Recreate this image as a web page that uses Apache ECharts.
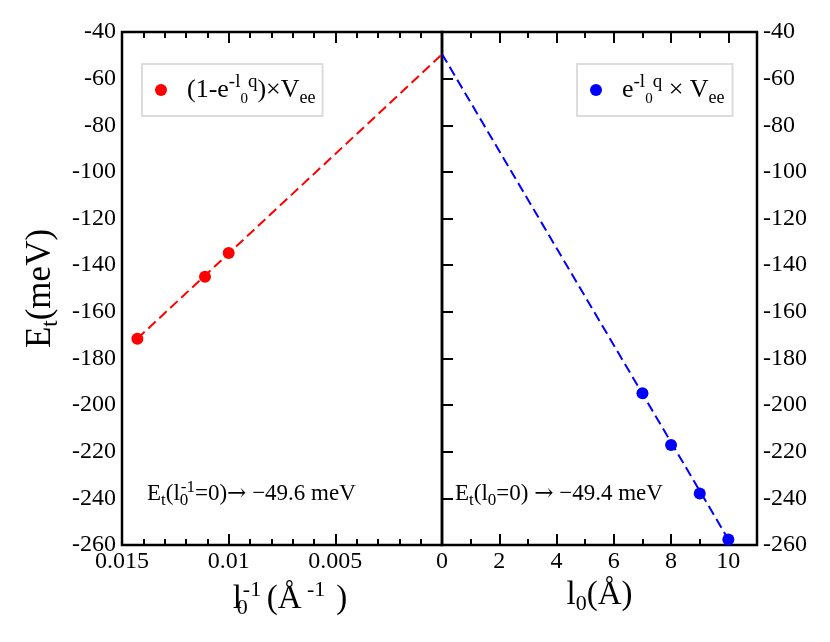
<!DOCTYPE html>
<html><head><meta charset="utf-8">
<script src="https://cdn.jsdelivr.net/npm/echarts@6/dist/echarts.min.js"></script>
<style>html,body{margin:0;padding:0;background:#fff}#c{width:830px;height:642px}</style>
</head><body><div id="c"></div>
<script>
// ---- data ----
const invL0 = [0.01428, 0.01111, 0.01];           // l0^-1 (Å^-1)
const energyInv = [-171.5, -145.0, -134.8];      // Et (meV)
const fitInvX = [0.01428, 0];
const fitInvY = [-171.5, -49.6];
const l0 = [7, 8, 9, 10];                        // l0 (Å)
const energyL0 = [-194.9, -217.1, -237.9, -257.6];
const fitL0X = [0, 10];
const fitL0Y = [-49.4, -257.6];
const yRange = [-260, -40];
const yStep = 20;
const invRange = [0, 0.015];
const invStep = 0.005;
const l0Range = [0, 11];
const l0Step = 2;
const nameRed = '(1-e^{-l0q})xVee';
const nameBlue = 'e^{-l0q}xVee';

const F = 'Liberation Serif';
const zip = (a, b) => a.map((v, i) => [v, b[i]]);

const legendRich = {
  gap: {width: 15, fontSize: 10, lineHeight: 34},
  m: {fontFamily: F, fontSize: 26, lineHeight: 34, color: '#000'},
  sup: {fontFamily: F, fontSize: 19, lineHeight: 22, verticalAlign: 'top', color: '#000'},
  ss: {fontFamily: F, fontSize: 15, lineHeight: 29, verticalAlign: 'bottom', color: '#000'},
  sub: {fontFamily: F, fontSize: 18, lineHeight: 7, verticalAlign: 'bottom', color: '#000'}
};
const titleRich = {
  m: {fontFamily: F, fontSize: 33, lineHeight: 40, color: '#000'},
  sub: {fontFamily: F, fontSize: 22, lineHeight: 8, verticalAlign: 'bottom', color: '#000'},
  s0: {fontFamily: F, fontSize: 22, lineHeight: 8, verticalAlign: 'bottom', width: 1, color: '#000'},
  sp: {fontFamily: F, fontSize: 22, lineHeight: 5, verticalAlign: 'top', color: '#000'}
};
const yTitleRich = {
  m: {fontFamily: F, fontSize: 35, lineHeight: 42, color: '#000'},
  sub: {fontFamily: F, fontSize: 23, lineHeight: 22, verticalAlign: 'bottom', color: '#000'}
};
const noteRich = {
  m: {fontFamily: F, fontSize: 23, lineHeight: 30, color: '#000'},
  ar: {fontFamily: 'DejaVu Serif', fontSize: 23, lineHeight: 30, color: '#000'},
  sub: {fontFamily: F, fontSize: 17, lineHeight: 12, verticalAlign: 'bottom', color: '#000'},
  s0: {fontFamily: F, fontSize: 17, lineHeight: 8, verticalAlign: 'bottom', width: 1, color: '#000'},
  sp: {fontFamily: F, fontSize: 17, lineHeight: 20, verticalAlign: 'top', color: '#000'}
};

const labelStyle = {fontFamily: F, fontSize: 24, color: '#000'};
const tickMajor = {show: true, inside: true, length: 11, lineStyle: {color: '#000', width: 2}};
const tickMinor = {show: true, inside: true, length: 6, lineStyle: {color: '#000', width: 2}};

const chart = echarts.init(document.getElementById('c'), null, {renderer: 'canvas'});
chart.setOption({
  backgroundColor: '#fff',
  animation: false,
  grid: [
    {left: 122, top: 32, width: 320, height: 513, show: true, borderColor: '#000', borderWidth: 2.5, backgroundColor: 'transparent', containLabel: false, outerBoundsMode: 'none'},
    {left: 442, top: 32, width: 315, height: 513, show: true, borderColor: '#000', borderWidth: 2.5, backgroundColor: 'transparent', containLabel: false, outerBoundsMode: 'none'}
  ],
  xAxis: [
    {type: 'value', gridIndex: 0, position: 'bottom', min: invRange[0], max: invRange[1], interval: invStep, inverse: true,
     axisLine: {show: false}, axisTick: tickMajor, minorTick: {show: true, splitNumber: 5, length: 6, lineStyle: {color: '#000', width: 2}},
     splitLine: {show: false}, minorSplitLine: {show: false},
     axisLabel: Object.assign({margin: 5, formatter: v => (v === 0 ? '' : String(+v.toFixed(3)))}, labelStyle),
     name: '{m|l}{s0|0}{sp|-1 }{m|(Å}{sp| -1  }{m|)}', nameLocation: 'middle', nameGap: 30,
     nameTextStyle: {rich: titleRich, padding: [0, 0, 0, 16]}},
    {type: 'value', gridIndex: 0, position: 'top', min: invRange[0], max: invRange[1], interval: invStep, inverse: true,
     axisLine: {show: false}, axisTick: tickMajor, minorTick: {show: true, splitNumber: 5, length: 6, lineStyle: {color: '#000', width: 2}},
     splitLine: {show: false}, axisLabel: {show: false}},
    {type: 'value', gridIndex: 1, position: 'bottom', min: l0Range[0], max: l0Range[1], interval: l0Step,
     axisLine: {show: false}, axisTick: tickMajor, splitLine: {show: false},
     axisLabel: Object.assign({margin: 5, formatter: v => (v % l0Step === 0 ? String(v) : '')}, labelStyle),
     name: '{m|l}{sub|0}{m|(Å)}', nameLocation: 'middle', nameGap: 30, nameTextStyle: {rich: titleRich}},
    {type: 'value', gridIndex: 1, position: 'bottom', min: l0Range[0], max: l0Range[1], interval: 1,
     axisLine: {show: false}, axisTick: tickMinor, splitLine: {show: false}, axisLabel: {show: false}},
    {type: 'value', gridIndex: 1, position: 'top', min: l0Range[0], max: l0Range[1], interval: l0Step,
     axisLine: {show: false}, axisTick: tickMajor, splitLine: {show: false}, axisLabel: {show: false}},
    {type: 'value', gridIndex: 1, position: 'top', min: l0Range[0], max: l0Range[1], interval: 1,
     axisLine: {show: false}, axisTick: tickMinor, splitLine: {show: false}, axisLabel: {show: false}}
  ],
  yAxis: [
    {type: 'value', gridIndex: 0, position: 'left', min: yRange[0], max: yRange[1], interval: yStep,
     axisLine: {show: false}, axisTick: tickMajor, splitLine: {show: false},
     axisLabel: Object.assign({margin: 6}, labelStyle),
     name: '{m|E}{sub|t}{m|(meV)}', nameLocation: 'middle', nameGap: 60, nameRotate: 90,
     nameTextStyle: {rich: yTitleRich}},
    {type: 'value', gridIndex: 1, position: 'right', min: yRange[0], max: yRange[1], interval: yStep,
     axisLine: {show: false}, axisTick: {show: false}, splitLine: {show: false},
     axisLabel: Object.assign({margin: 6}, labelStyle)}
  ],
  legend: [
    {data: [nameRed], left: 142, top: 64, icon: 'circle', itemWidth: 12, itemHeight: 12, selectedMode: false,
     backgroundColor: '#fff', borderColor: '#dcdcdc', borderWidth: 2, padding: [9, 7, 9, 13],
     formatter: () => '{gap| }{m|(1-e}{sup|-l}{ss|0}{sup|q}{m|)×V}{sub|ee}',
     textStyle: {rich: legendRich}},
    {data: [nameBlue], left: 577, top: 64, icon: 'circle', itemWidth: 12, itemHeight: 12, selectedMode: false,
     backgroundColor: '#fff', borderColor: '#dcdcdc', borderWidth: 2, padding: [9, 8, 9, 13],
     formatter: () => '{gap| }{m|e}{sup|-l}{ss|0}{sup|q}{m| × V}{sub|ee}',
     textStyle: {rich: legendRich}}
  ],
  graphic: [
    {type: 'text', x: 147, y: 494, z: 10,
     style: {text: '{m|E}{sub|t}{m|(l}{s0|0}{sp|-1}{m|=0)}{ar|→}{m| −49.6 meV}', rich: noteRich, verticalAlign: 'middle', align: 'left'}},
    {type: 'text', x: 455, y: 494, z: 10,
     style: {text: '{m|E}{sub|t}{m|(l}{sub|0}{m|=0) }{ar|→}{m| −49.4 meV}', rich: noteRich, verticalAlign: 'middle', align: 'left'}}
  ],
  series: [
    {type: 'line', xAxisIndex: 0, yAxisIndex: 0, data: zip(fitInvX, fitInvY), symbol: 'none', silent: true,
     lineStyle: {color: '#ff0000', width: 2, type: [10, 5]}, z: 2},
    {type: 'scatter', name: nameRed, xAxisIndex: 0, yAxisIndex: 0, data: zip(invL0, energyInv), symbolSize: 12,
     itemStyle: {color: '#ff0000', opacity: 1}, z: 3},
    {type: 'line', xAxisIndex: 2, yAxisIndex: 1, data: zip(fitL0X, fitL0Y), symbol: 'none', silent: true,
     lineStyle: {color: '#0000ff', width: 2, type: [10, 5]}, z: 2},
    {type: 'scatter', name: nameBlue, xAxisIndex: 2, yAxisIndex: 1, data: zip(l0, energyL0), symbolSize: 12,
     itemStyle: {color: '#0000ff', opacity: 1}, z: 3}
  ]
});
</script>
</body></html>
